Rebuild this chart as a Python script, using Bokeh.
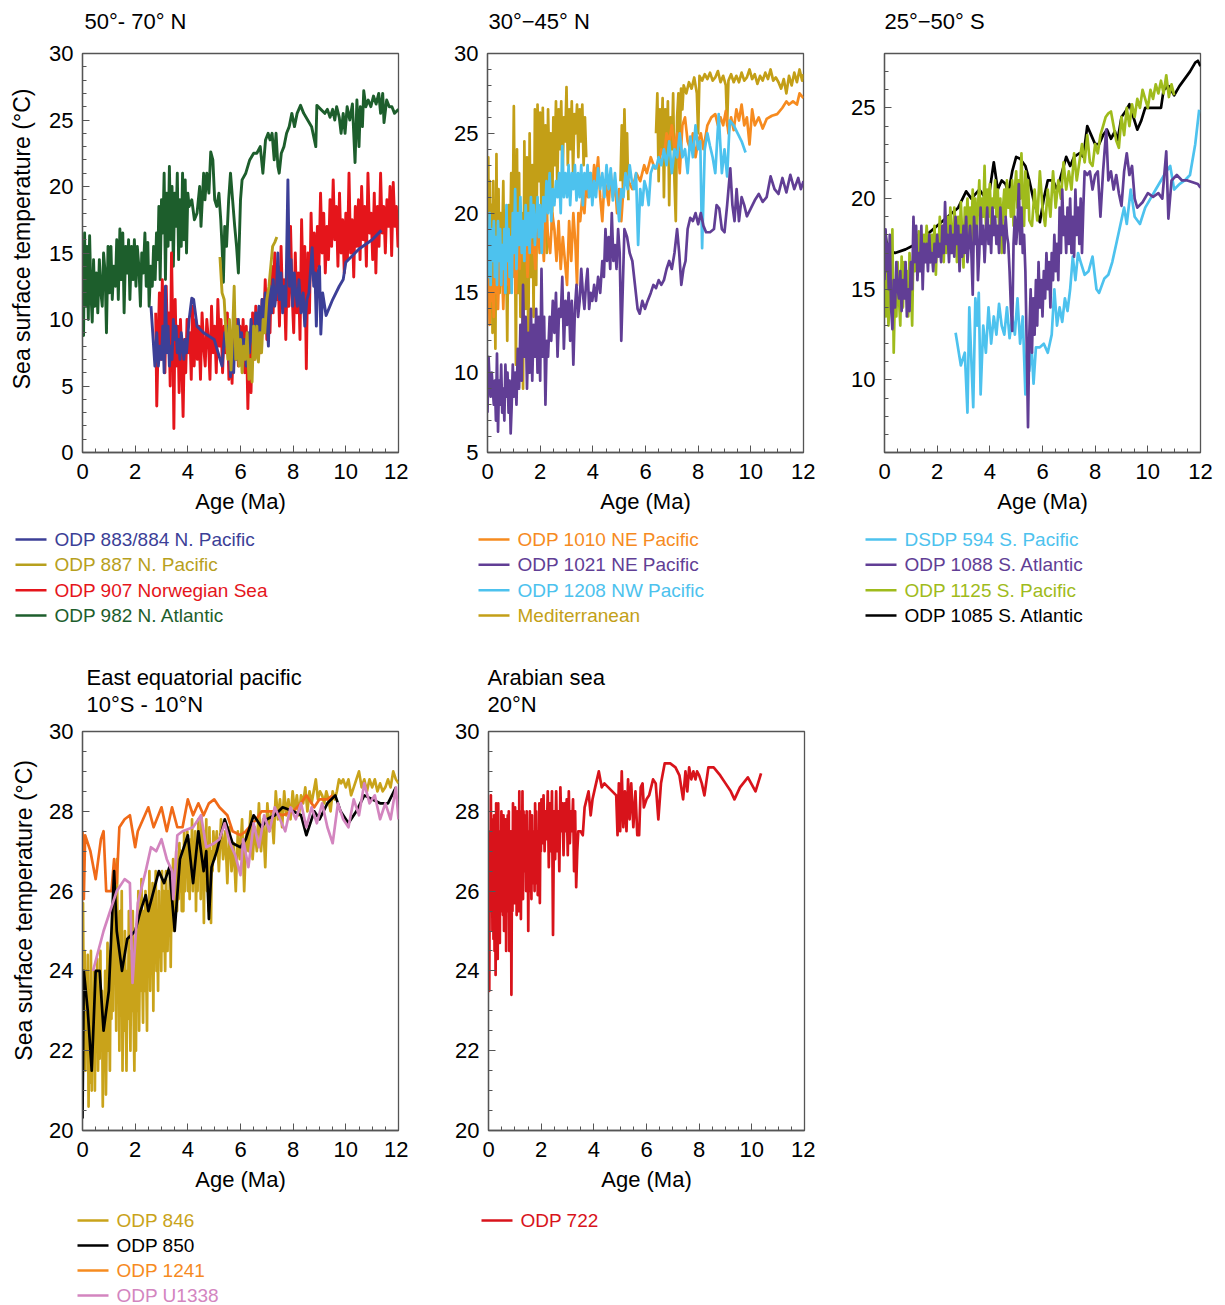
import math
from bokeh.plotting import figure
from bokeh.models import Range1d, SingleIntervalTicker
from bokeh.core.properties import value
from bokeh.layouts import column, row
from bokeh.embed import file_html
from bokeh.resources import INLINE

nan = float("nan")
FONT = "Liberation Sans"

# ---------------------------------------------------------------- data
# Each record is (age in Ma, sea surface temperature in deg C).
# 50-70 N
odp883_884 = [(2.60, 11.0), (2.75, 6.5), (2.82, 9.0), (2.88, 6.5), (2.94, 8.0), (3.00, 7.0), (3.05, 9.5), (3.10, 6.0),
              (3.15, 12.5), (3.20, 7.5), (3.25, 9.5), (3.30, 6.5), (3.35, 8.0), (3.40, 7.0), (3.45, 10.0), (3.50, 8.5),
              (3.55, 9.5), (3.60, 7.5), (3.65, 8.5), (3.70, 7.0), (3.75, 9.0), (3.80, 8.0), (3.85, 7.0), (3.90, 8.5),
              (3.95, 7.5), (4.05, 10.0), (4.15, 11.6), (4.22, 11.5), (4.35, 9.5), (4.60, 9.0), (5.00, 8.5), (5.15, 7.5),
              (5.30, 6.5), (5.40, 9.0), (5.45, 8.0), (5.52, 9.5), (5.58, 7.5), (5.62, 5.7), (5.68, 8.0), (5.74, 6.0),
              (5.80, 9.5), (5.86, 7.0), (5.92, 10.0), (5.98, 7.5), (6.04, 9.0), (6.10, 7.0), (6.16, 8.5), (6.22, 6.5),
              (6.28, 9.0), (6.34, 7.5), (6.40, 10.0), (6.46, 8.5), (6.52, 7.5), (6.58, 10.5), (6.64, 9.0), (6.70, 11.0),
              (6.76, 8.5), (6.82, 11.5), (6.88, 9.0), (6.94, 12.0), (7.00, 10.0), (7.06, 8.0), (7.12, 12.5), (7.18, 10.5),
              (7.24, 13.0), (7.30, 11.0), (7.36, 12.0), (7.42, 15.0), (7.48, 11.5), (7.54, 13.5), (7.60, 10.5),
              (7.66, 12.5), (7.72, 11.0), (7.80, 20.5), (7.86, 12.5), (7.92, 14.5), (7.98, 11.0), (8.04, 13.5),
              (8.10, 12.0), (8.16, 11.0), (8.22, 13.0), (8.30, 10.5), (8.38, 12.0), (8.44, 9.5), (8.52, 11.5),
              (8.60, 12.0), (8.72, 15.4), (8.78, 12.5), (8.83, 13.5), (8.88, 9.5), (8.94, 13.5), (9.00, 14.0),
              (9.05, 8.9), (9.12, 12.0), (9.25, 10.3), (9.50, 11.5), (9.75, 12.5), (9.90, 13.0), (10.00, 14.3),
              (10.50, 15.3), (11.00, 16.0), (11.35, 16.7)]

odp887 = [(5.22, 14.7), (5.30, 12.0), (5.38, 11.5), (5.45, 9.0), (5.52, 7.0), (5.58, 10.0), (5.64, 6.2), (5.70, 9.0),
          (5.76, 12.5), (5.82, 7.0), (5.88, 9.5), (5.94, 6.5), (6.00, 8.5), (6.06, 6.0), (6.12, 8.0), (6.18, 7.0),
          (6.25, 9.0), (6.32, 5.5), (6.38, 7.0), (6.44, 5.3), (6.50, 9.5), (6.56, 7.0), (6.62, 9.5), (6.68, 6.8),
          (6.74, 9.0), (6.80, 7.5), (6.86, 10.0), (6.92, 9.0), (7.00, 11.5), (7.08, 12.5), (7.15, 14.0),
          (7.22, 15.5), (7.30, 15.8), (7.38, 16.2)]

odp907 = [(2.78, 10.5), (2.82, 3.5), (2.87, 8.0), (2.92, 12.0), (2.98, 7.0), (3.03, 13.0), (3.08, 9.0), (3.13, 6.0),
          (3.18, 12.5), (3.23, 8.0), (3.28, 10.5), (3.33, 5.0), (3.38, 15.0), (3.43, 9.0), (3.47, 1.8), (3.52, 11.5),
          (3.57, 6.5), (3.62, 9.5), (3.67, 4.5), (3.72, 10.0), (3.77, 7.0), (3.82, 2.7), (3.87, 8.5), (3.92, 6.0),
          (3.97, 10.0), (4.02, 7.5), (4.08, 9.0), (4.13, 5.5), (4.18, 11.0), (4.24, 6.5), (4.30, 10.0), (4.36, 7.0),
          (4.42, 9.5), (4.48, 5.5), (4.54, 10.5), (4.60, 8.0), (4.66, 6.5), (4.72, 10.0), (4.78, 8.5), (4.84, 5.5),
          (4.90, 11.0), (4.96, 7.5), (5.02, 9.5), (5.08, 6.0), (5.14, 11.5), (5.20, 8.0), (5.26, 10.0), (5.32, 6.0),
          (5.38, 9.5), (5.44, 7.5), (5.50, 10.5), (5.56, 5.5), (5.62, 9.0), (5.68, 5.2), (5.74, 9.5), (5.80, 7.0),
          (5.86, 10.0), (5.92, 6.5), (5.98, 9.5), (6.04, 7.0), (6.10, 10.0), (6.16, 6.0), (6.22, 9.5), (6.28, 3.3),
          (6.34, 8.5), (6.40, 4.5), (6.46, 10.5), (6.52, 7.0), (6.58, 11.0), (6.64, 8.0), (6.70, 10.5), (6.76, 7.5),
          (6.82, 11.5), (6.88, 9.5), (6.94, 13.0), (7.00, 8.5), (7.06, 12.0), (7.12, 9.0), (7.18, 14.0),
          (7.24, 10.5), (7.30, 15.0), (7.36, 11.5), (7.42, 14.0), (7.48, 9.5), (7.54, 15.5), (7.60, 11.0),
          (7.66, 13.0), (7.72, 8.5), (7.78, 14.5), (7.84, 11.0), (7.90, 17.0), (7.96, 12.0), (8.02, 9.0),
          (8.08, 15.0), (8.14, 10.5), (8.20, 13.5), (8.26, 8.5), (8.32, 17.5), (8.38, 12.0), (8.44, 15.5),
          (8.50, 6.3), (8.56, 15.0), (8.62, 10.5), (8.68, 18.0), (8.74, 13.5), (8.80, 16.5), (8.86, 12.0),
          (8.92, 17.0), (8.98, 14.0), (9.04, 19.5), (9.10, 15.0), (9.16, 18.0), (9.22, 13.5), (9.28, 17.0),
          (9.34, 14.5), (9.40, 19.0), (9.46, 15.5), (9.52, 20.5), (9.58, 16.0), (9.64, 18.5), (9.70, 14.0),
          (9.76, 19.5), (9.82, 15.0), (9.88, 17.5), (9.94, 13.5), (10.00, 18.0), (10.06, 14.5), (10.12, 21.0),
          (10.18, 15.0), (10.24, 17.5), (10.30, 13.2), (10.36, 18.5), (10.42, 15.5), (10.48, 19.0), (10.54, 14.5),
          (10.60, 20.0), (10.66, 16.0), (10.72, 18.5), (10.78, 14.0), (10.84, 21.0), (10.90, 16.5), (10.96, 18.0),
          (11.02, 14.5), (11.08, 19.5), (11.14, 13.5), (11.20, 18.5), (11.26, 15.5), (11.32, 21.0), (11.38, 16.5),
          (11.44, 18.5), (11.50, 15.0), (11.56, 19.0), (11.62, 17.0), (11.68, 20.0), (11.74, 14.8), (11.80, 20.3),
          (11.86, 17.0), (11.92, 18.5), (11.98, 15.5), (12.00, 17.5)]

odp982 = [(0.00, 12.5), (0.04, 8.8), (0.08, 16.5), (0.12, 11.0), (0.17, 15.5), (0.22, 10.0), (0.27, 16.3),
          (0.32, 12.0), (0.37, 9.8), (0.42, 14.5), (0.47, 11.0), (0.53, 13.5), (0.58, 10.5), (0.64, 14.5),
          (0.70, 12.0), (0.75, 11.0), (0.80, 15.0), (0.86, 13.5), (0.91, 9.0), (0.97, 15.5), (1.02, 12.0),
          (1.08, 15.5), (1.13, 11.5), (1.19, 14.0), (1.25, 12.5), (1.30, 16.0), (1.36, 11.5), (1.42, 16.8),
          (1.47, 13.0), (1.53, 16.5), (1.58, 10.5), (1.64, 15.5), (1.70, 13.5), (1.75, 16.0), (1.80, 11.5),
          (1.86, 15.5), (1.92, 13.0), (1.97, 16.0), (2.03, 12.5), (2.08, 15.5), (2.14, 14.0), (2.20, 11.0),
          (2.25, 15.0), (2.31, 13.5), (2.37, 16.5), (2.42, 12.5), (2.48, 15.8), (2.53, 11.0), (2.59, 14.0),
          (2.65, 12.5), (2.70, 15.5), (2.76, 13.0), (2.81, 16.5), (2.86, 14.5), (2.90, 18.5), (2.95, 13.0),
          (3.00, 19.0), (3.05, 16.5), (3.10, 21.0), (3.15, 13.0), (3.20, 19.5), (3.25, 15.5), (3.30, 21.5),
          (3.35, 16.0), (3.40, 20.0), (3.45, 14.0), (3.50, 19.5), (3.55, 17.0), (3.60, 21.0), (3.65, 14.5),
          (3.70, 19.0), (3.75, 15.5), (3.80, 21.0), (3.85, 16.0), (3.90, 20.5), (3.95, 15.0), (4.00, 19.5),
          (4.05, 18.5), (4.15, 19.0), (4.25, 17.5), (4.35, 18.0), (4.45, 20.0), (4.50, 17.0), (4.60, 21.0),
          (4.65, 19.0), (4.72, 21.0), (4.80, 19.5), (4.87, 22.6), (4.95, 22.0), (5.02, 19.0), (5.10, 18.5),
          (5.18, 19.5), (5.25, 17.5), (5.30, 15.5), (5.35, 12.8), (5.40, 17.0), (5.47, 15.5), (5.55, 19.0),
          (5.62, 21.0), (5.70, 19.0), (5.78, 17.0), (5.85, 15.5), (5.92, 13.5), (6.00, 19.0), (6.06, 20.5),
          (6.20, 21.0), (6.35, 22.0), (6.50, 22.5), (6.62, 22.5), (6.75, 23.0), (6.85, 21.0), (6.95, 23.5),
          (7.05, 24.0), (7.12, 23.5), (7.20, 24.0), (7.28, 22.0), (7.35, 24.0), (7.42, 21.5), (7.47, 21.0),
          (7.55, 22.5), (7.65, 23.0), (7.75, 24.0), (7.85, 24.5), (7.95, 25.5), (8.05, 24.5), (8.15, 25.5),
          (8.28, 26.1), (8.40, 25.5), (8.55, 25.0), (8.70, 24.5), (8.86, 23.0), (8.90, 26.1), (9.05, 25.8),
          (9.20, 25.5), (9.30, 25.8), (9.40, 25.2), (9.50, 25.8), (9.58, 25.0), (9.65, 26.0), (9.75, 25.2),
          (9.82, 24.0), (9.90, 25.5), (9.97, 24.0), (10.05, 26.0), (10.15, 25.0), (10.25, 26.2), (10.35, 21.8),
          (10.42, 26.5), (10.50, 23.0), (10.55, 26.0), (10.63, 24.5), (10.68, 27.2), (10.76, 26.0),
          (10.85, 26.5), (10.95, 26.0), (11.05, 26.8), (11.15, 26.2), (11.25, 27.0), (11.32, 25.5),
          (11.40, 27.0), (11.45, 24.8), (11.55, 26.5), (11.65, 26.0), (11.75, 26.0), (11.85, 25.5), (12.00, 25.8)]

# 30-45 N
odp1010 = [(0.00, 14.0), (0.04, 16.5), (0.08, 13.0), (0.12, 17.0), (0.16, 14.5), (0.20, 15.5), (0.24, 13.5),
           (0.28, 17.5), (0.32, 15.0), (0.36, 16.0), (0.40, 14.0), (0.45, 17.0), (0.50, 15.5), (0.55, 16.5),
           (0.60, 14.0), (0.66, 18.0), (0.72, 15.5), (0.78, 17.0), (0.84, 15.0), (0.90, 18.5), (0.96, 16.0),
           (1.02, 17.5), (1.08, 15.0), (1.15, 18.0), (1.22, 16.5), (1.30, 19.0), (1.38, 17.0), (1.45, 18.5),
           (1.52, 16.0), (1.60, 19.5), (1.68, 17.5), (1.75, 18.0), (1.82, 16.5), (1.90, 20.0), (1.98, 17.5),
           (2.06, 19.5), (2.14, 17.0), (2.22, 20.5), (2.30, 18.5), (2.38, 17.5), (2.46, 20.0), (2.54, 19.0),
           (2.62, 17.0), (2.70, 19.5), (2.78, 16.5), (2.86, 18.5), (2.94, 17.0), (3.02, 15.5), (3.10, 19.5),
           (3.18, 17.0), (3.26, 20.0), (3.34, 18.0), (3.40, 15.5), (3.45, 20.0), (3.52, 19.5), (3.60, 21.0),
           (3.68, 20.0), (3.75, 22.0), (3.82, 21.0), (3.90, 22.5), (3.98, 21.5), (4.05, 23.0), (4.12, 22.0),
           (4.20, 23.5), (4.28, 21.0), (4.36, 19.5), (4.44, 22.0), (4.52, 21.5), (4.60, 20.5), (4.68, 22.5),
           (4.76, 21.0), (4.84, 22.0), (4.92, 20.0), (5.00, 21.5), (5.08, 19.5), (5.16, 21.5), (5.24, 22.5),
           (5.35, 22.0), (5.50, 21.5), (5.65, 22.5), (5.80, 22.0), (5.95, 23.0), (6.05, 22.5), (6.20, 23.5),
           (6.35, 22.8), (6.50, 23.0), (6.60, 24.0), (6.70, 23.5), (6.80, 25.0), (6.90, 24.5), (7.00, 25.5),
           (7.10, 24.0), (7.20, 25.0), (7.30, 22.5), (7.40, 25.5), (7.50, 26.0), (7.60, 24.5), (7.70, 24.0),
           (7.80, 25.0), (7.90, 23.5), (8.00, 24.5), (8.10, 25.0), (8.20, 24.0), (8.35, 25.5), (8.50, 26.0),
           (8.65, 26.2), (8.75, 25.5), (8.85, 26.0), (8.95, 25.5), (9.05, 26.4), (9.15, 25.0), (9.25, 26.0),
           (9.35, 25.2), (9.45, 26.5), (9.55, 25.8), (9.65, 26.8), (9.75, 25.5), (9.85, 26.0), (9.95, 24.3),
           (10.05, 26.5), (10.15, 25.5), (10.30, 26.0), (10.45, 25.3), (10.60, 25.9), (10.80, 26.1),
           (11.00, 26.2), (11.20, 26.6), (11.35, 27.0), (11.45, 26.8), (11.60, 27.0), (11.75, 26.8),
           (11.85, 27.5), (12.00, 27.2)]

odp1021 = [(0.00, 7.5), (0.04, 11.0), (0.08, 9.5), (0.12, 8.5), (0.16, 10.0), (0.20, 9.0), (0.24, 8.0), (0.28, 9.5),
           (0.32, 7.0), (0.36, 11.2), (0.40, 6.3), (0.44, 9.5), (0.48, 8.0), (0.52, 10.5), (0.56, 7.5), (0.60, 9.0),
           (0.64, 7.0), (0.68, 10.5), (0.72, 8.5), (0.76, 10.0), (0.80, 7.5), (0.84, 9.5), (0.88, 6.2), (0.92, 8.0),
           (0.96, 10.5), (1.00, 8.5), (1.05, 10.0), (1.10, 8.0), (1.15, 11.5), (1.20, 9.0), (1.25, 13.0),
           (1.30, 9.5), (1.35, 15.5), (1.40, 11.0), (1.45, 13.5), (1.50, 9.0), (1.55, 12.5), (1.60, 10.0),
           (1.65, 14.0), (1.70, 9.5), (1.75, 13.0), (1.80, 11.0), (1.85, 14.0), (1.90, 10.0), (1.95, 13.5),
           (2.00, 9.5), (2.05, 16.5), (2.10, 11.0), (2.15, 13.5), (2.20, 8.0), (2.25, 12.0), (2.30, 11.0),
           (2.36, 13.5), (2.42, 12.0), (2.48, 14.5), (2.54, 12.5), (2.60, 15.0), (2.66, 11.0), (2.72, 14.0),
           (2.78, 13.5), (2.84, 16.0), (2.90, 11.5), (2.96, 14.5), (3.02, 13.0), (3.08, 15.0), (3.14, 12.0),
           (3.20, 14.5), (3.26, 10.5), (3.32, 14.0), (3.38, 15.5), (3.44, 13.5), (3.50, 14.5), (3.56, 16.5),
           (3.62, 15.0), (3.68, 14.0), (3.74, 15.5), (3.80, 16.5), (3.86, 14.0), (3.92, 15.0), (3.98, 14.5),
           (4.05, 15.5), (4.12, 14.5), (4.20, 16.0), (4.28, 15.0), (4.36, 17.0), (4.42, 16.0), (4.48, 19.0),
           (4.54, 17.0), (4.60, 18.5), (4.66, 16.5), (4.72, 20.0), (4.78, 17.0), (4.84, 18.0), (4.90, 16.5),
           (4.96, 19.0), (5.02, 17.5), (5.08, 12.0), (5.14, 15.5), (5.20, 19.0), (5.30, 18.5), (5.40, 17.5),
           (5.50, 17.0), (5.60, 15.5), (5.70, 14.0), (5.78, 13.7), (5.88, 14.5), (5.98, 14.0), (6.08, 14.5),
           (6.20, 15.0), (6.30, 15.5), (6.40, 15.3), (6.50, 15.8), (6.60, 15.5), (6.70, 15.8), (6.80, 16.5),
           (6.90, 17.0), (7.00, 16.5), (7.10, 17.5), (7.20, 19.0), (7.28, 17.5), (7.36, 15.5), (7.44, 16.5),
           (7.52, 17.0), (7.60, 19.0), (7.70, 19.7), (7.80, 19.5), (7.90, 20.0), (8.00, 19.3), (8.10, 20.0),
           (8.20, 19.2), (8.30, 18.8), (8.45, 18.8), (8.60, 19.0), (8.70, 20.5), (8.80, 20.3), (8.90, 19.0),
           (9.00, 18.8), (9.10, 20.5), (9.22, 22.8), (9.30, 20.5), (9.38, 19.5), (9.46, 21.5), (9.55, 19.5),
           (9.65, 21.0), (9.75, 20.5), (9.85, 19.8), (10.00, 20.3), (10.15, 20.8), (10.30, 21.2), (10.45, 20.7),
           (10.60, 21.0), (10.75, 22.3), (10.90, 21.5), (11.05, 21.2), (11.20, 22.2), (11.35, 21.3),
           (11.50, 22.4), (11.65, 21.5), (11.80, 22.2), (11.90, 21.5), (12.00, 22.0)]

odp1208 = [(0.00, 18.5), (0.04, 16.0), (0.08, 20.0), (0.12, 15.5), (0.16, 19.0), (0.20, 17.0), (0.24, 19.5),
           (0.28, 16.0), (0.32, 18.5), (0.36, 15.5), (0.40, 19.5), (0.44, 17.0), (0.48, 19.0), (0.52, 15.5),
           (0.56, 18.0), (0.60, 16.5), (0.64, 19.0), (0.68, 15.0), (0.72, 20.5), (0.76, 17.0), (0.80, 19.0),
           (0.84, 16.0), (0.88, 18.5), (0.92, 15.0), (0.96, 20.0), (1.00, 17.5), (1.05, 21.5), (1.10, 16.5),
           (1.15, 20.0), (1.20, 18.0), (1.25, 21.0), (1.30, 17.5), (1.35, 19.5), (1.40, 17.0), (1.45, 20.5),
           (1.50, 18.0), (1.55, 20.0), (1.60, 17.5), (1.65, 21.0), (1.70, 18.5), (1.75, 20.5), (1.80, 18.0),
           (1.85, 19.5), (1.90, 21.0), (1.95, 18.5), (2.00, 20.5), (2.06, 17.5), (2.12, 21.0), (2.18, 19.5),
           (2.24, 22.0), (2.30, 20.0), (2.36, 22.5), (2.42, 19.5), (2.48, 21.5), (2.54, 20.5), (2.60, 22.0),
           (2.66, 21.0), (2.72, 22.5), (2.78, 20.0), (2.84, 24.2), (2.90, 21.0), (2.96, 22.5), (3.02, 21.0),
           (3.08, 23.0), (3.14, 20.5), (3.20, 22.5), (3.26, 21.5), (3.32, 23.0), (3.38, 20.8), (3.44, 22.5),
           (3.50, 21.0), (3.56, 23.0), (3.62, 20.5), (3.68, 22.5), (3.74, 21.5), (3.80, 23.0), (3.86, 21.0),
           (3.92, 22.5), (3.98, 20.5), (4.05, 22.0), (4.12, 21.0), (4.20, 22.8), (4.28, 21.5), (4.36, 22.5),
           (4.44, 21.0), (4.52, 23.0), (4.60, 21.5), (4.68, 22.8), (4.76, 20.8), (4.84, 22.5), (4.92, 21.0),
           (5.00, 19.5), (5.08, 21.5), (5.16, 21.0), (5.24, 22.5), (5.32, 21.5), (5.40, 23.0), (5.48, 22.0),
           (5.56, 21.5), (5.64, 22.5), (5.72, 18.0), (5.80, 21.5), (5.88, 20.5), (5.96, 22.0), (6.04, 21.5),
           (6.12, 20.5), (6.20, 22.5), (6.30, 23.0), (6.40, 22.8), (6.50, 23.5), (6.60, 23.0), (6.70, 24.0),
           (6.80, 23.0), (6.90, 24.5), (7.00, 22.5), (7.10, 24.0), (7.20, 23.5), (7.30, 25.0), (7.40, 23.5),
           (7.50, 24.0), (7.60, 22.5), (7.70, 24.8), (7.80, 23.5), (7.90, 25.5), (8.00, 24.0), (8.08, 24.5),
           (8.15, 17.8), (8.25, 24.0), (8.35, 25.0), (8.45, 24.2), (8.55, 23.5), (8.65, 22.5), (8.78, 26.2),
           (8.90, 22.5), (9.00, 24.0), (9.10, 22.3), (9.20, 25.8), (9.35, 25.5), (9.50, 25.0), (9.65, 24.5),
           (9.80, 23.8)]

mediterranean = [(0.00, 19.0), (0.03, 23.5), (0.06, 15.0), (0.09, 22.0), (0.12, 18.0), (0.16, 20.5), (0.19, 12.5),
                 (0.22, 22.0), (0.26, 16.0), (0.30, 11.5), (0.34, 23.7), (0.38, 14.0), (0.42, 21.5), (0.46, 15.0),
                 (0.50, 20.0), (0.55, 17.5), (0.60, 22.0), (0.65, 15.0), (0.70, 19.0), (0.75, 12.0), (0.80, 20.5),
                 (0.85, 16.5), (0.90, 22.5), (0.95, 18.0), (1.00, 26.7), (1.04, 19.0), (1.08, 10.5), (1.12, 24.0),
                 (1.16, 15.0), (1.20, 22.5), (1.25, 13.5), (1.30, 20.0), (1.35, 9.0), (1.40, 24.5), (1.45, 14.0),
                 (1.50, 23.5), (1.55, 11.0), (1.60, 25.0), (1.65, 16.0), (1.70, 23.0), (1.75, 13.5), (1.80, 26.5),
                 (1.85, 15.5), (1.90, 26.8), (1.95, 22.0), (2.00, 26.3), (2.05, 19.5), (2.10, 26.6), (2.15, 21.0),
                 (2.20, 25.5), (2.25, 17.5), (2.30, 26.5), (2.35, 22.5), (2.40, 25.0), (2.45, 19.0), (2.50, 26.0),
                 (2.55, 23.0), (2.60, 27.0), (2.65, 21.5), (2.70, 26.5), (2.75, 24.0), (2.80, 27.0), (2.85, 22.0),
                 (2.90, 26.0), (2.95, 24.5), (3.00, 27.9), (3.05, 23.0), (3.10, 26.5), (3.15, 24.0), (3.20, 27.0),
                 (3.25, 22.5), (3.30, 26.2), (3.35, 25.0), (3.40, 26.8), (3.45, 23.5), (3.50, 26.5), (3.55, 24.5),
                 (3.60, 26.8), (3.65, 23.0), (3.70, 26.0), (3.75, 23.5), (3.76, nan),
                 (5.05, 22.0), (5.10, 25.5), (5.15, 21.0), (5.20, 26.5), (5.25, 22.5), (5.30, 25.0), (5.35, 20.8),
                 (5.36, nan),
                 (6.40, 25.0), (6.45, 27.5), (6.50, 22.0), (6.55, 26.5), (6.60, 24.0), (6.65, 27.2), (6.70, 21.0),
                 (6.75, 26.5), (6.80, 23.5), (6.85, 27.0), (6.90, 20.5), (6.95, 26.0), (7.00, 24.0), (7.05, 27.5),
                 (7.10, 22.0), (7.15, 19.5), (7.20, 26.0), (7.25, 27.5), (7.30, 24.0), (7.35, 27.8), (7.40, 26.5),
                 (7.45, 28.0), (7.55, 27.5), (7.65, 28.2), (7.75, 27.8), (7.85, 28.5), (7.95, 27.5), (8.00, 25.0),
                 (8.05, 28.6), (8.15, 28.3), (8.25, 28.7), (8.35, 28.4), (8.45, 28.8), (8.55, 28.3), (8.65, 28.5),
                 (8.75, 28.9), (8.85, 28.2), (8.95, 28.6), (9.05, 28.0), (9.10, 25.5), (9.15, 28.3), (9.25, 28.7),
                 (9.35, 28.2), (9.45, 28.6), (9.55, 28.2), (9.65, 28.8), (9.75, 28.3), (9.85, 28.5), (9.95, 29.0),
                 (10.05, 28.4), (10.15, 28.7), (10.25, 28.1), (10.35, 28.6), (10.45, 28.3), (10.55, 28.8),
                 (10.65, 28.4), (10.75, 29.0), (10.85, 28.3), (10.95, 28.5), (11.05, 28.2), (11.15, 27.8),
                 (11.25, 28.4), (11.35, 27.5), (11.45, 28.6), (11.55, 28.0), (11.65, 28.8), (11.75, 28.2),
                 (11.85, 29.0), (11.95, 28.3), (12.00, 28.7)]

# 25-50 S
dsdp594 = [(2.70, 12.6), (2.90, 10.8), (3.05, 11.5), (3.15, 8.2), (3.22, 14.0), (3.30, 11.0), (3.37, 8.5),
           (3.45, 14.5), (3.52, 13.0), (3.58, 14.8), (3.65, 9.2), (3.75, 13.0), (3.85, 11.5), (3.95, 14.0),
           (4.05, 12.0), (4.15, 13.5), (4.25, 12.5), (4.35, 14.2), (4.45, 13.0), (4.55, 12.5), (4.65, 14.0),
           (4.75, 12.3), (4.85, 13.5), (4.95, 12.5), (5.05, 14.5), (5.15, 12.0), (5.25, 13.5), (5.35, 9.2),
           (5.42, 12.0), (5.50, 10.5), (5.58, 12.0), (5.66, 9.8), (5.75, 11.8), (5.90, 11.8), (6.05, 12.0),
           (6.20, 11.5), (6.35, 12.5), (6.45, 15.0), (6.55, 13.0), (6.65, 14.0), (6.75, 13.2), (6.85, 14.5),
           (6.95, 13.8), (7.05, 15.0), (7.15, 16.8), (7.25, 15.5), (7.35, 17.0), (7.45, 16.5), (7.60, 15.8),
           (7.75, 16.0), (7.90, 16.8), (8.05, 15.0), (8.15, 14.8), (8.35, 15.6), (8.50, 15.8), (8.65, 16.5),
           (8.80, 17.5), (8.95, 18.5), (9.10, 19.5), (9.20, 18.6), (9.35, 20.5), (9.50, 19.0), (9.70, 18.6),
           (9.90, 19.5), (10.10, 20.0), (10.30, 20.5), (10.50, 21.0), (10.70, 21.5), (10.85, 21.8),
           (11.00, 20.5), (11.20, 20.8), (11.40, 21.0), (11.60, 21.3), (11.80, 23.0), (11.95, 24.9)]

odp1088 = [(0.00, 15.5), (0.04, 18.3), (0.08, 16.0), (0.12, 17.5), (0.16, 15.0), (0.20, 18.0), (0.25, 14.0),
           (0.30, 12.8), (0.35, 15.5), (0.40, 14.0), (0.45, 16.5), (0.50, 15.0), (0.55, 14.5), (0.60, 16.0),
           (0.65, 13.8), (0.70, 15.5), (0.75, 14.5), (0.80, 16.5), (0.85, 13.5), (0.90, 15.0), (0.95, 13.8),
           (1.00, 16.5), (1.05, 15.0), (1.10, 19.0), (1.15, 16.5), (1.20, 18.5), (1.25, 15.5), (1.30, 17.0),
           (1.35, 16.0), (1.40, 18.5), (1.45, 15.0), (1.50, 17.5), (1.55, 16.5), (1.60, 17.5), (1.65, 16.0),
           (1.70, 18.0), (1.75, 16.5), (1.80, 17.0), (1.85, 16.0), (1.90, 17.5), (1.95, 16.5), (2.00, 18.0),
           (2.05, 16.8), (2.10, 17.5), (2.15, 16.5), (2.20, 18.5), (2.25, 17.0), (2.30, 19.8), (2.35, 17.5),
           (2.40, 18.0), (2.45, 16.5), (2.50, 18.5), (2.55, 17.0), (2.60, 18.0), (2.65, 16.8), (2.70, 19.0),
           (2.75, 17.5), (2.80, 18.5), (2.85, 16.0), (2.90, 18.0), (2.95, 16.8), (3.00, 18.5), (3.05, 17.0),
           (3.10, 19.0), (3.15, 16.5), (3.20, 17.5), (3.25, 18.5), (3.30, 17.0), (3.35, 14.7), (3.40, 19.0),
           (3.45, 17.5), (3.50, 18.5), (3.55, 15.5), (3.60, 17.0), (3.65, 19.5), (3.70, 17.5), (3.75, 18.5),
           (3.80, 16.5), (3.85, 18.0), (3.90, 19.5), (3.95, 17.5), (4.00, 18.5), (4.05, 17.0), (4.10, 19.5),
           (4.15, 18.0), (4.20, 19.0), (4.25, 17.5), (4.30, 18.5), (4.35, 17.0), (4.40, 19.5), (4.45, 18.0),
           (4.50, 18.5), (4.55, 17.0), (4.60, 19.0), (4.65, 18.0), (4.70, 17.5), (4.75, 16.0), (4.80, 14.0),
           (4.85, 12.7), (4.90, 17.5), (4.95, 19.0), (5.00, 17.5), (5.05, 18.5), (5.10, 20.8), (5.15, 17.5),
           (5.20, 19.5), (5.25, 17.0), (5.30, 18.0), (5.35, 16.0), (5.40, 12.0), (5.45, 7.4), (5.50, 12.5),
           (5.55, 15.0), (5.60, 11.5), (5.65, 14.5), (5.70, 12.5), (5.75, 15.5), (5.80, 13.0), (5.85, 16.5),
           (5.90, 14.0), (5.95, 15.5), (6.00, 13.5), (6.05, 16.0), (6.10, 14.5), (6.15, 17.0), (6.20, 15.0),
           (6.25, 16.5), (6.30, 14.0), (6.35, 17.0), (6.40, 15.5), (6.45, 18.0), (6.50, 16.0), (6.55, 17.5),
           (6.60, 15.5), (6.65, 19.5), (6.70, 17.0), (6.75, 20.5), (6.80, 18.0), (6.85, 19.0), (6.90, 17.0),
           (6.95, 19.5), (7.00, 17.5), (7.05, 20.0), (7.10, 17.0), (7.15, 19.0), (7.20, 16.8), (7.25, 20.5),
           (7.30, 18.0), (7.35, 19.5), (7.40, 17.5), (7.45, 20.0), (7.50, 17.0), (7.55, 19.5), (7.60, 21.5),
           (7.70, 21.3), (7.80, 21.5), (7.90, 20.5), (8.00, 21.3), (8.10, 21.5), (8.20, 19.0), (8.30, 21.5),
           (8.42, 23.8), (8.50, 21.0), (8.60, 21.5), (8.70, 20.5), (8.80, 21.3), (8.90, 20.3), (9.00, 19.6),
           (9.10, 21.5), (9.20, 22.5), (9.30, 21.3), (9.40, 21.8), (9.50, 20.0), (9.60, 19.5), (9.80, 19.8),
           (10.00, 20.3), (10.20, 20.1), (10.40, 20.3), (10.55, 20.0), (10.70, 22.6), (10.78, 18.9),
           (10.90, 21.0), (11.10, 21.3), (11.30, 21.0), (11.50, 21.0), (11.70, 20.9), (11.90, 20.8), (12.00, 20.6)]

odp1125 = [(0.00, 15.5), (0.05, 13.5), (0.10, 16.0), (0.15, 13.0), (0.20, 15.0), (0.25, 14.5), (0.30, 18.3),
           (0.35, 11.5), (0.40, 15.0), (0.45, 13.5), (0.50, 16.5), (0.55, 14.5), (0.60, 13.0), (0.65, 16.8),
           (0.70, 14.0), (0.75, 16.5), (0.80, 15.0), (0.85, 16.0), (0.90, 13.5), (0.95, 17.0), (1.00, 15.5),
           (1.05, 13.0), (1.10, 17.5), (1.15, 16.0), (1.20, 18.0), (1.25, 16.5), (1.30, 18.2), (1.35, 17.0),
           (1.40, 18.0), (1.45, 16.0), (1.50, 18.0), (1.55, 17.0), (1.60, 18.5), (1.65, 17.5), (1.70, 18.0),
           (1.75, 16.5), (1.80, 18.0), (1.85, 17.0), (1.90, 18.5), (1.95, 15.8), (2.00, 18.0), (2.05, 17.0),
           (2.10, 19.0), (2.15, 17.5), (2.20, 18.5), (2.25, 16.5), (2.30, 18.8), (2.35, 17.0), (2.40, 19.0),
           (2.45, 17.5), (2.50, 19.5), (2.55, 18.0), (2.60, 17.0), (2.65, 19.5), (2.70, 18.5), (2.75, 16.5),
           (2.80, 19.0), (2.85, 17.5), (2.90, 19.8), (2.95, 18.0), (3.00, 16.2), (3.05, 19.5), (3.10, 18.5),
           (3.15, 20.0), (3.20, 18.0), (3.25, 19.5), (3.30, 17.5), (3.35, 20.5), (3.40, 18.5), (3.45, 20.0),
           (3.50, 18.0), (3.55, 19.5), (3.60, 21.0), (3.65, 18.5), (3.70, 20.0), (3.75, 19.0), (3.80, 21.8),
           (3.85, 18.5), (3.90, 20.5), (3.95, 19.0), (4.00, 20.8), (4.05, 18.5), (4.10, 20.0), (4.15, 19.5),
           (4.20, 21.0), (4.25, 19.0), (4.30, 20.5), (4.35, 18.5), (4.40, 20.0), (4.45, 17.0), (4.50, 19.5),
           (4.55, 20.5), (4.60, 19.0), (4.65, 21.0), (4.70, 19.5), (4.75, 20.5), (4.80, 19.0), (4.85, 21.0),
           (4.90, 18.5), (4.95, 20.5), (5.00, 21.5), (5.05, 19.5), (5.10, 21.0), (5.15, 20.0), (5.20, 22.5),
           (5.25, 20.0), (5.30, 18.5), (5.35, 21.5), (5.40, 19.5), (5.45, 21.0), (5.50, 18.8), (5.60, 18.5),
           (5.70, 20.5), (5.80, 18.8), (5.90, 21.5), (6.00, 19.5), (6.10, 18.5), (6.20, 20.5), (6.30, 19.0),
           (6.40, 21.5), (6.50, 19.5), (6.60, 21.0), (6.70, 20.0), (6.80, 22.0), (6.90, 20.5), (7.00, 21.5),
           (7.10, 20.5), (7.20, 22.5), (7.30, 21.0), (7.40, 22.0), (7.50, 23.0), (7.60, 22.0), (7.70, 23.5),
           (7.80, 22.0), (7.90, 21.8), (8.00, 23.0), (8.10, 22.5), (8.20, 23.5), (8.30, 24.0), (8.40, 24.5),
           (8.50, 24.7), (8.60, 24.8), (8.70, 24.0), (8.80, 23.2), (8.90, 22.8), (9.00, 24.5), (9.10, 23.5),
           (9.20, 25.0), (9.30, 24.0), (9.40, 25.2), (9.50, 24.5), (9.60, 25.5), (9.70, 25.0), (9.80, 26.0),
           (9.90, 25.5), (10.00, 25.0), (10.10, 26.0), (10.20, 25.5), (10.30, 26.3), (10.40, 25.8), (10.50, 26.5),
           (10.60, 25.8), (10.70, 26.8), (10.80, 25.6), (10.90, 26.3), (11.00, 25.7)]

odp1085 = [(0.00, 16.5), (0.03, 18.2), (0.10, 17.2), (0.40, 17.0), (0.80, 17.2), (1.20, 17.5), (1.60, 18.0),
           (2.00, 18.5), (2.40, 19.0), (2.80, 19.5), (3.10, 20.4), (3.30, 20.0), (3.60, 20.5), (3.85, 20.0),
           (4.00, 20.5), (4.15, 22.0), (4.30, 20.5), (4.45, 21.0), (4.60, 20.8), (4.70, 20.3), (4.85, 21.5),
           (5.00, 22.3), (5.15, 22.2), (5.35, 21.8), (5.50, 21.0), (5.65, 20.0), (5.80, 19.2), (5.90, 18.7),
           (6.05, 20.0), (6.20, 21.0), (6.40, 21.0), (6.55, 20.5), (6.75, 21.5), (6.90, 22.3), (7.05, 21.8),
           (7.20, 22.3), (7.40, 22.5), (7.55, 22.3), (7.70, 24.0), (7.85, 23.5), (8.00, 23.0), (8.15, 23.0),
           (8.30, 23.5), (8.45, 23.8), (8.60, 23.3), (8.75, 23.7), (8.85, 23.2), (9.00, 24.5), (9.15, 24.8),
           (9.30, 25.2), (9.45, 24.5), (9.60, 23.8), (9.75, 24.3), (9.90, 25.0), (10.10, 25.0), (10.30, 25.0),
           (10.50, 25.0), (10.60, 26.0), (10.80, 26.2), (11.00, 25.7), (11.20, 26.2), (11.40, 26.6),
           (11.60, 27.0), (11.80, 27.5), (11.90, 27.6), (12.00, 27.3)]

# East equatorial Pacific
odp846 = [(0.00, 23.0), (0.02, 25.7), (0.05, 22.5), (0.08, 24.5), (0.11, 21.5), (0.14, 24.0), (0.17, 22.0),
          (0.20, 24.4), (0.23, 20.6), (0.26, 23.5), (0.29, 21.2), (0.32, 24.5), (0.35, 21.0), (0.38, 23.0),
          (0.41, 22.0), (0.44, 24.0), (0.47, 21.0), (0.50, 23.5), (0.53, 22.0), (0.56, 24.3), (0.59, 21.5),
          (0.62, 23.0), (0.65, 21.8), (0.68, 24.5), (0.71, 22.0), (0.74, 23.5), (0.77, 20.6), (0.80, 23.0),
          (0.83, 21.5), (0.86, 24.0), (0.89, 20.9), (0.92, 22.5), (0.95, 24.7), (0.98, 22.0), (1.01, 23.5),
          (1.04, 21.5), (1.07, 24.5), (1.10, 22.8), (1.13, 25.5), (1.16, 23.0), (1.19, 26.5), (1.22, 24.0),
          (1.25, 25.5), (1.28, 22.5), (1.31, 26.8), (1.34, 24.0), (1.37, 25.0), (1.40, 22.0), (1.43, 25.5),
          (1.46, 23.5), (1.49, 26.0), (1.52, 21.5), (1.55, 24.5), (1.58, 22.5), (1.61, 25.0), (1.64, 23.0),
          (1.67, 21.5), (1.70, 24.0), (1.73, 22.8), (1.76, 25.5), (1.79, 23.5), (1.82, 22.0), (1.85, 24.5),
          (1.88, 23.0), (1.91, 25.5), (1.94, 23.0), (1.97, 21.5), (2.00, 24.5), (2.03, 22.0), (2.06, 25.0),
          (2.09, 23.0), (2.12, 26.0), (2.15, 22.5), (2.18, 24.5), (2.21, 23.5), (2.24, 26.3), (2.27, 24.0),
          (2.30, 22.7), (2.33, 25.5), (2.36, 23.5), (2.39, 26.0), (2.42, 24.0), (2.45, 22.5), (2.48, 25.5),
          (2.51, 24.0), (2.54, 26.5), (2.57, 23.5), (2.60, 25.0), (2.63, 24.0), (2.66, 26.2), (2.69, 23.0),
          (2.72, 25.5), (2.75, 24.5), (2.78, 26.5), (2.81, 24.0), (2.84, 25.0), (2.87, 23.5), (2.90, 26.0),
          (2.93, 24.5), (2.96, 25.5), (2.99, 24.0), (3.02, 26.5), (3.05, 24.5), (3.08, 26.0), (3.11, 25.0),
          (3.14, 24.0), (3.17, 26.5), (3.20, 25.5), (3.23, 24.5), (3.26, 26.0), (3.29, 25.0), (3.32, 26.5),
          (3.35, 24.1), (3.38, 26.0), (3.41, 25.5), (3.44, 26.8), (3.47, 25.0), (3.50, 26.5), (3.53, 25.5),
          (3.56, 27.0), (3.59, 25.5), (3.62, 26.5), (3.65, 25.8), (3.68, 27.2), (3.71, 26.0), (3.74, 27.0),
          (3.77, 25.5), (3.80, 26.8), (3.83, 25.5), (3.86, 27.5), (3.89, 26.0), (3.92, 27.0), (3.95, 26.5),
          (3.98, 27.5), (4.01, 26.0), (4.04, 27.0), (4.07, 25.8), (4.10, 27.3), (4.13, 26.5), (4.16, 27.8),
          (4.19, 26.0), (4.22, 27.0), (4.25, 26.5), (4.28, 27.5), (4.31, 25.5), (4.34, 27.0), (4.37, 26.0),
          (4.40, 27.8), (4.43, 26.5), (4.46, 27.5), (4.49, 25.8), (4.52, 27.9), (4.55, 26.5), (4.58, 27.0),
          (4.61, 25.2), (4.64, 27.5), (4.67, 26.2), (4.70, 27.8), (4.73, 26.0), (4.76, 27.2), (4.79, 25.5),
          (4.82, 27.6), (4.85, 26.5), (4.88, 25.2), (4.91, 27.0), (4.94, 26.5), (4.97, 27.5), (5.02, 26.8),
          (5.10, 27.5), (5.18, 26.5), (5.26, 27.8), (5.34, 26.8), (5.42, 27.5), (5.50, 26.2), (5.58, 27.6),
          (5.66, 26.5), (5.74, 27.2), (5.82, 26.0), (5.90, 27.5), (5.98, 26.8), (6.06, 27.8), (6.14, 26.0),
          (6.22, 27.5), (6.30, 27.0), (6.38, 28.0), (6.46, 26.8), (6.54, 27.6), (6.62, 27.0), (6.70, 28.2),
          (6.78, 27.0), (6.86, 27.8), (6.94, 26.6), (7.02, 28.2), (7.10, 27.5), (7.18, 28.0), (7.26, 27.2),
          (7.34, 28.5), (7.42, 27.8), (7.50, 28.3), (7.58, 27.6), (7.66, 28.5), (7.74, 27.9), (7.82, 28.3),
          (7.90, 27.8), (7.98, 28.5), (8.06, 28.0), (8.14, 28.4), (8.22, 27.9), (8.30, 28.4), (8.38, 28.2),
          (8.46, 28.6), (8.54, 28.0), (8.62, 28.5), (8.70, 28.2), (8.78, 28.5), (8.86, 28.8), (8.94, 28.3),
          (9.02, 28.5), (9.10, 28.4), (9.18, 28.2), (9.26, 28.5), (9.34, 28.3), (9.42, 28.0), (9.50, 28.5),
          (9.58, 28.3), (9.66, 28.5), (9.74, 28.8), (9.82, 28.7), (9.90, 28.8), (10.00, 28.6), (10.10, 28.8),
          (10.20, 28.4), (10.30, 28.6), (10.40, 28.8), (10.50, 29.0), (10.60, 28.6), (10.70, 28.8),
          (10.80, 28.5), (10.90, 28.8), (11.00, 28.6), (11.10, 28.8), (11.20, 28.5), (11.30, 28.7),
          (11.40, 28.5), (11.50, 28.6), (11.60, 28.8), (11.70, 28.6), (11.80, 29.0), (11.90, 28.8), (12.00, 28.7)]

odp850 = [(0.00, 20.3), (0.05, 24.0), (0.20, 23.0), (0.35, 21.5), (0.50, 24.0), (0.65, 24.0), (0.80, 22.5),
          (1.00, 23.5), (1.20, 26.5), (1.30, 25.0), (1.50, 24.0), (1.70, 24.8), (2.00, 25.0), (2.20, 25.5),
          (2.40, 25.9), (2.50, 25.5), (2.70, 26.0), (2.90, 26.5), (3.10, 26.2), (3.30, 26.6), (3.50, 25.0),
          (3.70, 26.8), (4.00, 27.4), (4.20, 26.2), (4.40, 27.5), (4.60, 26.5), (4.70, 27.0), (4.80, 25.3),
          (4.90, 26.6), (5.10, 27.0), (5.40, 27.8), (5.70, 27.2), (6.00, 27.1), (6.20, 27.3), (6.50, 27.9),
          (6.80, 27.6), (7.00, 27.8), (7.30, 27.9), (7.60, 28.1), (8.00, 28.0), (8.30, 27.9), (8.50, 27.4),
          (8.80, 28.0), (9.00, 27.8), (9.30, 28.2), (9.60, 28.4), (9.80, 28.0), (10.10, 27.7), (10.40, 28.0),
          (10.70, 28.4), (11.00, 28.3), (11.30, 28.2), (11.60, 28.2), (11.90, 28.6)]

odp1241 = [(0.00, 27.5), (0.05, 25.8), (0.10, 27.4), (0.30, 27.0), (0.50, 26.3), (0.70, 27.3), (0.80, 27.5),
           (0.90, 26.0), (1.10, 26.0), (1.20, 26.8), (1.30, 26.2), (1.40, 27.6), (1.60, 27.8), (1.80, 27.9),
           (2.00, 27.1), (2.10, 27.5), (2.30, 27.8), (2.50, 28.1), (2.70, 27.6), (3.00, 28.1), (3.20, 27.5),
           (3.40, 28.1), (3.60, 27.6), (3.80, 27.6), (4.00, 28.3), (4.20, 27.9), (4.40, 28.2), (4.60, 27.9),
           (4.80, 28.2), (5.00, 28.3), (5.20, 28.1), (5.50, 27.9), (5.70, 27.5), (6.00, 27.4), (6.20, 27.5),
           (6.60, 27.8), (6.80, 28.0), (7.20, 28.0), (7.60, 27.9), (8.00, 28.0), (8.30, 28.2), (8.50, 28.4),
           (8.80, 28.1), (9.00, 28.3), (9.30, 28.3), (9.50, 28.4)]

odpU1338 = [(0.40, 24.0), (0.80, 25.0), (1.00, 25.4), (1.30, 26.0), (1.60, 26.3), (1.80, 26.2), (1.90, 23.7),
            (2.10, 25.7), (2.40, 26.5), (2.60, 27.1), (2.80, 27.0), (3.00, 27.3), (3.20, 26.8), (3.40, 26.5),
            (3.45, 25.8), (3.60, 27.4), (3.80, 27.5), (4.20, 27.6), (4.50, 27.9), (4.70, 27.1), (5.00, 27.2),
            (5.20, 27.3), (5.40, 27.7), (5.60, 27.2), (5.80, 26.9), (6.00, 26.4), (6.10, 27.3), (6.30, 26.6),
            (6.50, 27.7), (6.70, 27.1), (6.90, 27.9), (7.10, 27.5), (7.30, 28.1), (7.50, 27.8), (7.70, 27.5),
            (7.90, 28.1), (8.10, 27.8), (8.30, 28.2), (8.50, 27.6), (8.70, 28.1), (8.90, 27.7), (9.10, 28.2),
            (9.30, 27.6), (9.50, 27.2), (9.70, 28.2), (9.90, 27.8), (10.10, 27.6), (10.30, 28.3), (10.50, 27.9),
            (10.70, 28.7), (10.90, 28.2), (11.10, 28.4), (11.30, 27.8), (11.50, 28.2), (11.70, 27.8),
            (11.90, 28.6), (12.00, 27.8)]

# Arabian Sea
odp722 = [(0.00, 24.5), (0.01, 25.0), (0.03, 23.5), (0.05, 27.5), (0.07, 25.5), (0.09, 28.4), (0.11, 26.0),
          (0.13, 27.8), (0.15, 25.0), (0.17, 27.5), (0.19, 24.8), (0.21, 27.9), (0.23, 24.5), (0.25, 26.5),
          (0.27, 23.9), (0.29, 28.2), (0.31, 25.5), (0.33, 27.5), (0.35, 24.3), (0.37, 28.2), (0.39, 25.5),
          (0.41, 27.0), (0.43, 24.7), (0.45, 27.5), (0.47, 25.5), (0.49, 28.0), (0.51, 25.8), (0.53, 27.5),
          (0.55, 25.4), (0.57, 27.9), (0.59, 25.0), (0.61, 27.2), (0.63, 25.5), (0.65, 27.8), (0.67, 24.5),
          (0.69, 27.5), (0.71, 26.0), (0.73, 27.9), (0.75, 25.5), (0.77, 28.0), (0.79, 24.5), (0.81, 27.0),
          (0.83, 25.0), (0.85, 27.5), (0.87, 23.4), (0.89, 26.5), (0.91, 25.5), (0.93, 28.2), (0.95, 26.0),
          (0.97, 27.5), (0.99, 25.7), (1.01, 28.1), (1.03, 26.5), (1.05, 27.8), (1.07, 25.4), (1.09, 28.0),
          (1.11, 26.5), (1.13, 27.5), (1.15, 25.5), (1.17, 28.5), (1.19, 26.0), (1.21, 28.0), (1.23, 25.3),
          (1.25, 27.5), (1.27, 26.5), (1.29, 28.5), (1.31, 25.8), (1.33, 28.0), (1.35, 26.5), (1.37, 27.9),
          (1.39, 26.8), (1.41, 27.5), (1.43, 26.0), (1.45, 28.0), (1.47, 26.5), (1.49, 27.5), (1.51, 25.0),
          (1.53, 27.0), (1.55, 26.0), (1.57, 28.0), (1.59, 26.5), (1.61, 27.5), (1.63, 25.8), (1.65, 27.9),
          (1.67, 26.2), (1.69, 27.5), (1.71, 26.5), (1.73, 27.0), (1.75, 26.0), (1.77, 28.2), (1.79, 27.0),
          (1.81, 28.0), (1.83, 26.2), (1.85, 27.5), (1.87, 25.9), (1.89, 27.5), (1.91, 26.8), (1.93, 28.2),
          (1.95, 25.7), (1.97, 27.5), (1.99, 27.0), (2.01, 28.3), (2.05, 27.2), (2.09, 28.4), (2.13, 27.0),
          (2.17, 28.0), (2.21, 27.3), (2.25, 28.5), (2.29, 26.6), (2.33, 28.2), (2.37, 27.0), (2.41, 28.5),
          (2.45, 24.9), (2.49, 28.0), (2.53, 26.8), (2.57, 28.5), (2.61, 27.0), (2.65, 28.0), (2.69, 26.5),
          (2.73, 28.6), (2.77, 27.5), (2.81, 28.2), (2.85, 26.9), (2.89, 28.2), (2.93, 27.5), (2.97, 28.3),
          (3.01, 26.9), (3.05, 28.5), (3.09, 27.2), (3.13, 28.0), (3.17, 27.5), (3.21, 28.3), (3.25, 26.5),
          (3.29, 28.0), (3.33, 26.1), (3.37, 27.0), (3.41, 27.5), (3.50, 27.5), (3.58, 27.4), (3.65, 28.1),
          (3.80, 28.5), (3.88, 27.9), (3.95, 28.3), (4.05, 28.6), (4.19, 29.0), (4.30, 28.6), (4.40, 28.7),
          (4.55, 28.6), (4.70, 28.5), (4.85, 28.4), (4.90, 27.4), (4.95, 28.7), (5.00, 27.5), (5.06, 29.0),
          (5.12, 27.6), (5.18, 28.5), (5.24, 27.5), (5.30, 28.8), (5.36, 27.8), (5.42, 28.7), (5.50, 27.6),
          (5.58, 28.5), (5.65, 27.4), (5.72, 27.4), (5.78, 28.6), (5.85, 28.7), (5.90, 28.1), (6.00, 28.3),
          (6.10, 28.4), (6.25, 28.8), (6.35, 28.7), (6.45, 27.8), (6.55, 28.7), (6.69, 29.2), (6.90, 29.2),
          (7.10, 29.1), (7.25, 28.9), (7.39, 28.3), (7.48, 29.0), (7.55, 28.5), (7.62, 29.1), (7.70, 28.8),
          (7.78, 29.0), (7.86, 28.8), (7.92, 29.0), (8.00, 28.9), (8.10, 28.7), (8.20, 28.4), (8.35, 29.1),
          (8.55, 29.1), (8.80, 28.9), (9.00, 28.7), (9.20, 28.5), (9.34, 28.3), (9.55, 28.6), (9.85, 28.85),
          (10.14, 28.5), (10.35, 28.95)]

# ---------------------------------------------------------------- styling
AXIS_COLOR = "#555555"
YLABEL = "Sea surface temperature (\u00b0C)"


def new_panel(width, height, left, right, top, bottom, y_lo, y_hi, y_step, y_minor):
    p = figure(width=width, height=height, x_range=Range1d(0, 12), y_range=Range1d(y_lo, y_hi),
               output_backend="svg", toolbar_location=None,
               min_border_left=left, min_border_right=right, min_border_top=top, min_border_bottom=bottom)
    p.xgrid.visible = False
    p.ygrid.visible = False
    p.outline_line_color = AXIS_COLOR
    p.outline_line_width = 1.3
    p.background_fill_color = "white"
    p.border_fill_color = "white"
    p.xaxis.ticker = SingleIntervalTicker(interval=2, num_minor_ticks=4)
    p.yaxis.ticker = SingleIntervalTicker(interval=y_step, num_minor_ticks=y_minor)
    for ax in (p.xaxis[0], p.yaxis[0]):
        ax.axis_line_color = AXIS_COLOR
        ax.axis_line_width = 1.3
        ax.major_tick_line_color = AXIS_COLOR
        ax.minor_tick_line_color = AXIS_COLOR
        ax.major_tick_in = 7
        ax.major_tick_out = 0
        ax.minor_tick_in = 4
        ax.minor_tick_out = 0
        ax.major_label_text_font = FONT
        ax.major_label_text_font_size = "22px"
        ax.major_label_text_color = "black"
    p.xaxis.major_label_standoff = 11
    p.yaxis.major_label_standoff = 9
    p.xaxis.axis_label = "Age (Ma)"
    p.xaxis.axis_label_text_font = FONT
    p.xaxis.axis_label_text_font_size = "22px"
    p.xaxis.axis_label_text_font_style = "normal"
    p.xaxis.axis_label_text_color = "black"
    p.xaxis.axis_label_standoff = 7
    return p


def draw(p, records, color, width=2.7):
    xs = [a for a, _ in records]
    ys = [t for _, t in records]
    return p.line(xs, ys, line_color=color, line_width=width, line_join="round")


def blank_box(width, height):
    """An axis-free strip addressed in pixels from its top-left corner."""
    b = figure(width=width, height=height, x_range=Range1d(0, width), y_range=Range1d(height, 0),
               x_axis_type=None, y_axis_type=None, output_backend="svg", toolbar_location=None,
               min_border=0, outline_line_color=None)
    b.xgrid.visible = False
    b.ygrid.visible = False
    b.background_fill_color = "white"
    b.border_fill_color = "white"
    return b


def heading_box(width, height, lines):
    b = blank_box(width, height)
    for x, y, text in lines:
        b.text([x], [y], text=[text], text_color="black", text_font=value(FONT),
               text_font_size="22px", text_baseline="middle", text_align="left")
    return b


def ylabel_box(width, height, x, y):
    b = blank_box(width, height)
    b.text([x], [y], text=[YLABEL], text_color="black", text_font=value(FONT), text_font_size="23px",
           text_baseline="middle", text_align="center", angle=math.pi / 2)
    return b


def key_box(width, height, entries, x_sample, rows):
    b = blank_box(width, height)
    for (label, color), yc in zip(entries, rows):
        b.line([x_sample, x_sample + 31], [yc, yc], line_color=color, line_width=2.6)
        b.text([x_sample + 39], [yc], text=[label], text_color=color, text_font=value(FONT),
               text_font_size="19px", text_baseline="middle", text_align="left")
    return b


# ---------------------------------------------------------------- panels
C_BLUE = "#3c3f97"
C_OLIVE = "#b7a01d"
C_RED = "#e5151b"
C_GREEN = "#1d5e2c"
C_ORANGE = "#f68b1f"
C_PURPLE = "#613e95"
C_SKY = "#4dc2ee"
C_GOLD = "#c39f17"
C_LIME = "#9fbb1c"
C_BLACK = "#000000"
C_GOLD2 = "#c9a31a"
C_ORANGE2 = "#f06a18"
C_PINK = "#d385bf"
C_RED2 = "#d8131b"

ROWS_TOP = [19, 44.3, 69.7, 95]
ROWS_BOT = [22, 47, 72, 97]
PANEL_H = 482
YLAB_W = 40

# 50-70 N
yl1 = ylabel_box(YLAB_W, PANEL_H, 21, 224)
p1 = new_panel(408 - YLAB_W, PANEL_H, 82 - YLAB_W, 10, 15, 68, 0, 30, 5, 5)
draw(p1, odp982, C_GREEN, 2.9)
draw(p1, odp907, C_RED, 2.9)
draw(p1, odp883_884, C_BLUE, 2.9)
draw(p1, odp887, C_OLIVE, 2.9)
h1 = heading_box(408, 38, [(84, 21, "50\u00b0- 70\u00b0 N")])
k1 = key_box(408, 130, [("ODP 883/884 N. Pacific", C_BLUE), ("ODP 887 N. Pacific", C_OLIVE),
                        ("ODP 907 Norwegian Sea", C_RED), ("ODP 982 N. Atlantic", C_GREEN)], 15, ROWS_TOP)

# 30-45 N
p2 = new_panel(407, PANEL_H, 79, 12, 15, 68, 5, 30, 5, 5)
draw(p2, mediterranean, C_GOLD)
draw(p2, odp1010, C_ORANGE)
draw(p2, odp1208, C_SKY)
draw(p2, odp1021, C_PURPLE)
h2 = heading_box(407, 38, [(80, 21, "30\u00b0\u221245\u00b0 N")])
k2 = key_box(407, 130, [("ODP 1010 NE Pacific", C_ORANGE), ("ODP 1021 NE Pacific", C_PURPLE),
                        ("ODP 1208 NW Pacific", C_SKY), ("Mediterranean", C_GOLD)], 70, ROWS_TOP)

# 25-50 S
p3 = new_panel(410, PANEL_H, 69, 25, 15, 68, 6, 28, 5, 5)
draw(p3, dsdp594, C_SKY)
draw(p3, odp1085, C_BLACK)
draw(p3, odp1125, C_LIME)
draw(p3, odp1088, C_PURPLE)
h3 = heading_box(410, 38, [(69, 21, "25\u00b0\u221250\u00b0 S")])
k3 = key_box(410, 130, [("DSDP 594 S. Pacific", C_SKY), ("ODP 1088 S. Atlantic", C_PURPLE),
                        ("ODP 1125 S. Pacific", C_LIME), ("ODP 1085 S. Atlantic", C_BLACK)], 50, ROWS_TOP)

# East equatorial Pacific
yl4 = ylabel_box(YLAB_W, PANEL_H, 23, 216)
p4 = new_panel(408 - YLAB_W, PANEL_H, 82 - YLAB_W, 10, 15, 68, 20, 30, 2, 4)
draw(p4, odp846, C_GOLD2)
draw(p4, odp1241, C_ORANGE2)
draw(p4, odp850, C_BLACK)
draw(p4, odpU1338, C_PINK)
h4 = heading_box(408, 66, [(86, 27, "East equatorial pacific"), (86, 54, "10\u00b0S - 10\u00b0N")])
k4 = key_box(408, 107, [("ODP 846", C_GOLD2), ("ODP 850", C_BLACK),
                        ("ODP 1241", C_ORANGE), ("ODP U1338", C_PINK)], 77, ROWS_BOT)

# Arabian Sea
p5 = new_panel(407, PANEL_H, 80, 11, 15, 68, 20, 30, 2, 4)
draw(p5, odp722, C_RED2)
h5 = heading_box(407, 66, [(79, 27, "Arabian sea"), (79, 54, "20\u00b0N")])
k5 = key_box(407, 107, [("ODP 722", C_RED2)], 73, ROWS_BOT)

layout = column(row(h1, h2, h3, spacing=0),
                row(yl1, p1, p2, p3, spacing=0),
                row(k1, k2, k3, spacing=0),
                row(h4, h5, spacing=0),
                row(yl4, p4, p5, spacing=0),
                row(k4, k5, spacing=0), spacing=0)
open("out.html", "w").write(file_html(layout, INLINE))
